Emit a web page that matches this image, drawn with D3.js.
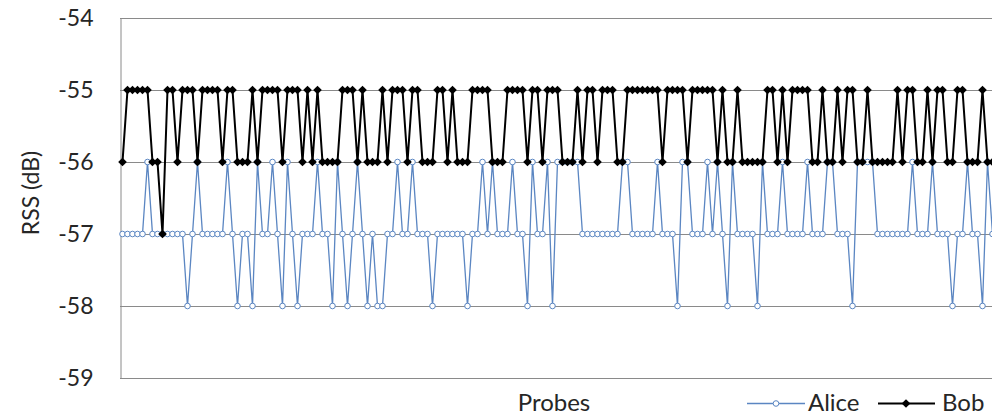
<!DOCTYPE html>
<html>
<head>
<meta charset="utf-8">
<script src="https://cdn.jsdelivr.net/npm/d3@7"></script>
<style>
  body { margin: 0; background: #fff; }
  text { font-family: Lato, "Open Sans", sans-serif; fill: #262626; }
</style>
</head>
<body>
<div id="chart"></div>
<script>
// RSS readings per probe (dB)
var alice = [
  -57, -57, -57, -57, -57, -56, -57, -57, -57, -57,
  -57, -57, -57, -58, -57, -56, -57, -57, -57, -57,
  -57, -56, -57, -58, -57, -57, -58, -56, -57, -57,
  -56, -57, -58, -56, -57, -58, -57, -57, -57, -56,
  -57, -57, -58, -56, -57, -58, -57, -56, -57, -58,
  -57, -58, -58, -57, -57, -56, -57, -57, -56, -57,
  -57, -57, -58, -57, -57, -57, -57, -57, -57, -58,
  -57, -57, -56, -57, -56, -57, -57, -57, -56, -57,
  -57, -58, -56, -57, -57, -56, -58, -56, -56, -56,
  -56, -56, -57, -57, -57, -57, -57, -57, -57, -57,
  -56, -56, -57, -57, -57, -57, -57, -56, -57, -57,
  -57, -58, -56, -56, -57, -57, -57, -56, -57, -56,
  -57, -58, -56, -57, -57, -57, -57, -58, -56, -57,
  -57, -57, -56, -57, -57, -57, -57, -56, -57, -57,
  -57, -56, -56, -57, -57, -57, -58, -56, -56, -56,
  -56, -57, -57, -57, -57, -57, -57, -57, -56, -57,
  -57, -57, -56, -57, -57, -57, -58, -57, -57, -56,
  -57, -57, -58, -56, -57
];

var bob = [
  -56, -55, -55, -55, -55, -55, -56, -56, -57, -55,
  -55, -56, -55, -55, -55, -56, -55, -55, -55, -55,
  -56, -55, -55, -56, -56, -56, -55, -56, -55, -55,
  -55, -55, -56, -55, -55, -55, -56, -55, -56, -55,
  -56, -56, -56, -56, -55, -55, -55, -56, -55, -56,
  -56, -56, -55, -56, -55, -55, -55, -56, -55, -55,
  -56, -56, -56, -55, -55, -56, -55, -56, -56, -56,
  -55, -55, -55, -55, -56, -56, -56, -55, -55, -55,
  -55, -56, -55, -55, -56, -55, -55, -55, -56, -56,
  -56, -55, -56, -55, -55, -56, -55, -55, -55, -56,
  -56, -55, -55, -55, -55, -55, -55, -55, -56, -55,
  -55, -55, -55, -56, -55, -55, -55, -55, -55, -56,
  -55, -56, -56, -55, -56, -56, -56, -56, -56, -55,
  -55, -56, -55, -56, -55, -55, -55, -55, -56, -56,
  -55, -56, -56, -55, -56, -55, -55, -56, -56, -55,
  -56, -56, -56, -56, -56, -55, -56, -55, -55, -56,
  -56, -55, -56, -55, -55, -56, -56, -55, -55, -56,
  -56, -56, -55, -56, -56
];

var probes = d3.range(alice.length);
var yTicks = [-59, -58, -57, -56, -55, -54];

var svgWidth = 992;
var svgHeight = 417;

// Plot area (runs a little past the right edge of the window)
var plot = { left: 120, right: 995, top: 18, bottom: 378 };

var svg = d3.select("#chart")
  .append("svg")
  .attr("width", svgWidth)
  .attr("height", svgHeight);

var xScale = d3.scalePoint()
  .domain(probes)
  .range([plot.left, plot.right])
  .padding(0.5);

var yScale = d3.scaleLinear()
  .domain([-59, -54])
  .range([plot.bottom, plot.top]);

// Gridlines
svg.append("g")
  .selectAll("line")
  .data(yTicks)
  .enter()
  .append("line")
  .attr("x1", plot.left)
  .attr("x2", svgWidth)
  .attr("y1", d => Math.round(yScale(d)) + 0.5)
  .attr("y2", d => Math.round(yScale(d)) + 0.5)
  .attr("stroke", "#8a8a8a")
  .attr("stroke-width", 1);

// Left axis (plain hyphen for the minus sign, like the original)
var leftAxis = d3.axisLeft(yScale)
  .tickValues(yTicks)
  .tickSize(0)
  .tickPadding(27)
  .tickFormat(d => String(d));

var yAxis = svg.append("g")
  .attr("transform", `translate(${plot.left + 0.5}, 0)`)
  .call(leftAxis);

yAxis.select(".domain").attr("stroke", "#8a8a8a");
yAxis.selectAll("text")
  .style("font-size", "23px")
  .attr("fill", "#262626")
  .attr("font-family", "Lato, 'Open Sans', sans-serif");

// Axis titles
svg.append("text")
  .attr("transform", `translate(39, 193) rotate(-90)`)
  .attr("text-anchor", "middle")
  .style("font-size", "23px")
  .text("RSS (dB)");

svg.append("text")
  .attr("x", 554)
  .attr("y", 411)
  .attr("text-anchor", "middle")
  .style("font-size", "24px")
  .text("Probes");

// Lines
var line = d3.line()
  .x((d, i) => xScale(i))
  .y(d => yScale(d));

var aliceColor = "#5b86c2";

svg.append("path")
  .datum(alice)
  .attr("d", line)
  .attr("fill", "none")
  .attr("stroke", aliceColor)
  .attr("stroke-width", 1.3);

svg.append("g")
  .selectAll("circle")
  .data(alice)
  .enter()
  .append("circle")
  .attr("cx", (d, i) => xScale(i))
  .attr("cy", d => yScale(d))
  .attr("r", 2.8)
  .attr("fill", "#fff")
  .attr("stroke", aliceColor)
  .attr("stroke-width", 1);

svg.append("path")
  .datum(bob)
  .attr("d", line)
  .attr("fill", "none")
  .attr("stroke", "#000")
  .attr("stroke-width", 2);

var diamond = d3.symbol().type(d3.symbolDiamond2).size(48);

svg.append("g")
  .selectAll("path")
  .data(bob)
  .enter()
  .append("path")
  .attr("d", diamond)
  .attr("transform", (d, i) => `translate(${xScale(i)}, ${yScale(d)})`)
  .attr("fill", "#000");

// Legend
var legend = svg.append("g");

legend.append("line")
  .attr("x1", 747).attr("x2", 805)
  .attr("y1", 403.5).attr("y2", 403.5)
  .attr("stroke", aliceColor)
  .attr("stroke-width", 1.3);

legend.append("circle")
  .attr("cx", 776).attr("cy", 403.5)
  .attr("r", 2.8)
  .attr("fill", "#fff")
  .attr("stroke", aliceColor);

legend.append("text")
  .attr("x", 808).attr("y", 411)
  .style("font-size", "24px")
  .text("Alice");

legend.append("line")
  .attr("x1", 878).attr("x2", 935)
  .attr("y1", 403.5).attr("y2", 403.5)
  .attr("stroke", "#000")
  .attr("stroke-width", 2);

legend.append("path")
  .attr("d", diamond)
  .attr("transform", "translate(906, 403.5)")
  .attr("fill", "#000");

legend.append("text")
  .attr("x", 942).attr("y", 411)
  .style("font-size", "24px")
  .text("Bob");
</script>
</body>
</html>
